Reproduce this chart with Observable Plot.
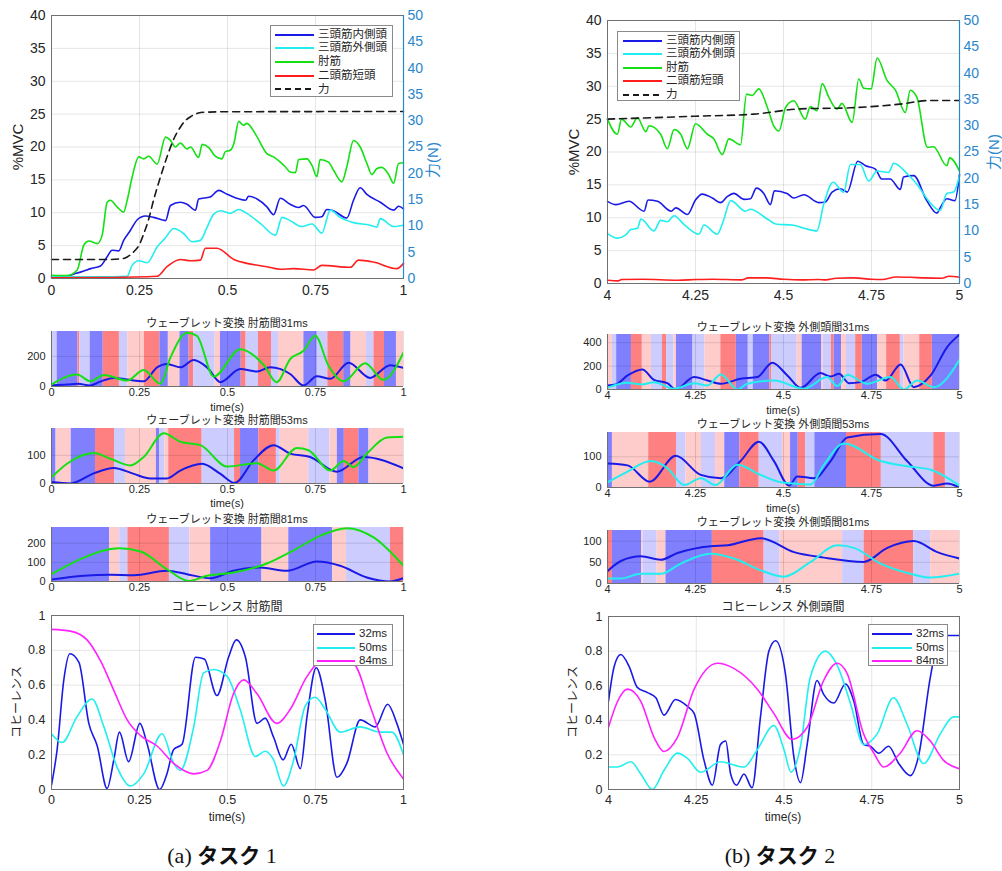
<!DOCTYPE html>
<html><head><meta charset="utf-8">
<script src="https://cdn.jsdelivr.net/npm/d3@7"></script>
<script src="https://cdn.jsdelivr.net/npm/@observablehq/plot@0.6"></script>
<style>
body{margin:0;background:#fff;}
#root{position:relative;width:1002px;height:871px;overflow:hidden;font-family:'Liberation Sans','Noto Sans CJK JP',sans-serif;color:#262626;background:#fff;}
.lbl{position:absolute;white-space:nowrap;line-height:1;}
.legend{position:absolute;background:#fff;border:1px solid #8a8a8a;box-sizing:border-box;}
.legend .row{position:absolute;left:0;white-space:nowrap;line-height:1;}
</style>
</head><body><div id="root"></div>
<script>
// ---------------- DATA ----------------
const xTicksA = [0, 0.25, 0.5, 0.75, 1];
const xTicksB = [4, 4.25, 4.5, 4.75, 5];
const mvcTicks = [0,5,10,15,20,25,30,35,40];
const forceTicks = [0,5,10,15,20,25,30,35,40,45,50];
const cohTicks = [0,0.2,0.4,0.6,0.8,1];
const muscleNames = ["三頭筋内側頭","三頭筋外側頭","肘筋","二頭筋短頭","力"];
const scaleNames = ["32ms","50ms","84ms"];
const wlTitlesA = ["ウェーブレット変換 肘筋間31ms","ウェーブレット変換 肘筋間53ms","ウェーブレット変換 肘筋間81ms"];
const wlTitlesB = ["ウェーブレット変換 外側頭間31ms","ウェーブレット変換 外側頭間53ms","ウェーブレット変換 外側頭間81ms"];
const cohTitles = ["コヒーレンス 肘筋間","コヒーレンス 外側頭間"];
const captions = [["(a)","タスク","1"],["(b)","タスク","2"]];

// Task 1 EMG (%MVC) and force (N)
const a_medial = [[0,0.35],[0.044,0.4],[0.068,0.75],[0.092,1.15],[0.111,1.5],[0.139,1.9],[0.158,3.3],[0.172,4.3],[0.191,4.2],[0.205,5.8],[0.224,7.3],[0.243,8.9],[0.267,9.5],[0.29,9.3],[0.324,8.8],[0.338,11.1],[0.366,11.6],[0.385,11.3],[0.409,10.4],[0.418,12.1],[0.451,12.4],[0.475,13.4],[0.499,12.8],[0.551,11.9],[0.56,12.5],[0.584,12.1],[0.612,10.9],[0.631,9.7],[0.65,12.2],[0.678,11.3],[0.702,10.8],[0.716,11.1],[0.749,9.3],[0.768,9.4],[0.782,10.5],[0.801,10.3],[0.839,9.2],[0.858,11.9],[0.877,13.8],[0.896,12.8],[0.934,11.6],[0.972,10.4],[0.986,11.0],[1,10.6]];
const a_lateral = [[0,0.25],[0.139,0.25],[0.215,0.35],[0.229,2.0],[0.248,2.7],[0.272,2.4],[0.3,4.8],[0.324,6.2],[0.347,7.6],[0.376,6.8],[0.399,5.6],[0.423,5.8],[0.442,7.8],[0.461,9.8],[0.48,10.3],[0.508,9.9],[0.532,10.5],[0.555,9.9],[0.593,8.4],[0.636,6.6],[0.655,9.3],[0.678,8.8],[0.711,7.9],[0.74,8.3],[0.768,6.9],[0.792,10.4],[0.82,9.3],[0.858,8.5],[0.905,8.1],[0.924,7.8],[0.934,9.1],[0.972,7.9],[1,8.1]];
const a_anconeus = [[0,0.5],[0.044,0.45],[0.073,1.3],[0.092,5.1],[0.106,5.7],[0.13,5.3],[0.144,6.6],[0.158,11.6],[0.167,11.9],[0.186,10.9],[0.205,10.1],[0.215,11.9],[0.229,15.4],[0.248,18.5],[0.262,18.2],[0.276,18.6],[0.3,17.4],[0.324,21.5],[0.338,21.0],[0.352,20.0],[0.366,20.6],[0.385,19.7],[0.395,20.0],[0.418,18.4],[0.428,20.4],[0.447,19.9],[0.465,18.6],[0.484,18.2],[0.494,19.3],[0.508,19.5],[0.518,20.5],[0.532,23.9],[0.545,23.3],[0.555,23.6],[0.579,22.0],[0.612,19.0],[0.631,18.5],[0.65,17.7],[0.664,17.0],[0.678,16.2],[0.693,16.1],[0.702,18.1],[0.726,18.2],[0.74,17.2],[0.754,15.5],[0.763,18.1],[0.787,17.7],[0.801,16.5],[0.825,14.7],[0.839,17.0],[0.858,21.0],[0.877,20.0],[0.896,17.5],[0.91,15.8],[0.924,16.7],[0.938,16.9],[0.957,15.9],[0.972,14.5],[0.986,17.5],[1,17.6]];
const a_biceps = [[0,0.1],[0.139,0.15],[0.3,0.35],[0.328,1.8],[0.366,2.9],[0.395,2.7],[0.423,2.8],[0.437,4.6],[0.47,4.6],[0.518,2.9],[0.555,2.3],[0.612,1.8],[0.65,1.4],[0.688,1.5],[0.745,1.3],[0.768,2.0],[0.849,1.7],[0.872,2.8],[0.915,2.5],[0.981,1.5],[1,2.3]];
const a_force = [[0,3.6],[0.15,3.6],[0.2,3.75],[0.215,4.1],[0.234,5.1],[0.25,6.5],[0.262,8.5],[0.276,11.25],[0.29,14.9],[0.31,19.4],[0.328,23.1],[0.35,26.9],[0.366,28.75],[0.38,30.0],[0.395,30.75],[0.415,31.4],[0.432,31.6],[0.5,31.7],[1,31.75]];

// Task 2 EMG (%MVC) and force (N)
const b_medial = [[4,12.5],[4.024,12.0],[4.061,12.5],[4.104,11.0],[4.115,12.7],[4.142,12.5],[4.181,11.0],[4.194,11.5],[4.227,10.5],[4.25,12.7],[4.269,13.6],[4.298,13.0],[4.321,12.3],[4.34,13.2],[4.359,13.7],[4.388,12.8],[4.406,12.9],[4.423,14.5],[4.444,13.7],[4.463,12.0],[4.474,14.1],[4.51,13.7],[4.529,13.0],[4.558,13.5],[4.6,12.3],[4.619,12.4],[4.638,13.9],[4.662,14.4],[4.681,13.9],[4.711,18.6],[4.733,17.9],[4.761,17.4],[4.779,15.9],[4.803,15.9],[4.832,14.3],[4.841,16.2],[4.87,16.4],[4.907,12.6],[4.936,10.7],[4.945,11.5],[4.964,12.9],[4.987,12.6],[5,16.6]];
const b_lateral = [[4,7.6],[4.028,6.9],[4.052,7.4],[4.066,8.2],[4.085,8.4],[4.095,9.8],[4.132,8.0],[4.151,9.6],[4.17,9.4],[4.189,10.3],[4.217,9.0],[4.26,7.5],[4.274,8.9],[4.312,7.5],[4.329,9.5],[4.35,12.6],[4.392,11.0],[4.406,11.3],[4.454,9.8],[4.482,9.0],[4.524,8.9],[4.558,8.4],[4.595,8.0],[4.614,12.0],[4.641,15.4],[4.671,13.9],[4.69,18.1],[4.718,18.1],[4.742,15.6],[4.766,17.1],[4.799,16.9],[4.813,18.3],[4.855,16.5],[4.879,15.1],[4.912,12.6],[4.945,11.1],[4.964,13.7],[4.983,13.9],[5,16.4]];
const b_anconeus = [[4,25.0],[4.028,22.7],[4.04,25.0],[4.066,23.8],[4.085,25.2],[4.109,23.1],[4.118,24.0],[4.151,22.7],[4.17,20.5],[4.189,23.4],[4.208,22.7],[4.227,20.5],[4.25,24.3],[4.284,22.7],[4.302,22.0],[4.326,19.6],[4.345,22.0],[4.378,21.1],[4.395,28.8],[4.411,28.6],[4.43,29.6],[4.454,26.8],[4.473,23.9],[4.487,23.2],[4.506,26.8],[4.529,27.8],[4.562,25.0],[4.576,26.9],[4.595,26.3],[4.61,30.4],[4.629,28.3],[4.652,26.5],[4.666,27.4],[4.695,24.5],[4.714,31.1],[4.728,29.7],[4.749,29.6],[4.766,34.3],[4.794,30.9],[4.818,29.4],[4.846,26.0],[4.86,29.4],[4.879,28.3],[4.909,20.7],[4.926,20.8],[4.964,17.9],[4.972,19.1],[5,17.1]];
const b_biceps = [[4,0.5],[4.03,0.4],[4.04,0.6],[4.1,0.65],[4.2,0.5],[4.25,0.6],[4.3,0.65],[4.38,0.55],[4.4,0.85],[4.45,0.85],[4.5,0.65],[4.55,0.55],[4.6,0.6],[4.62,0.55],[4.65,0.8],[4.7,0.85],[4.75,0.65],[4.78,0.6],[4.82,1.0],[4.86,0.95],[4.9,0.85],[4.95,0.8],[4.97,1.1],[5,0.95]];
const b_force = [[4,31.25],[4.25,31.8],[4.416,32.2],[4.548,33.2],[4.69,33.4],[4.83,34.1],[4.917,34.8],[5,34.8]];

// Wavelet band edges and kinds (B dark blue, L light blue, R dark red, P light red)
const wA1Edges = [0,0.016,0.075,0.08,0.11,0.147,0.193,0.217,0.264,0.308,0.332,0.365,0.391,0.404,0.465,0.48,0.539,0.553,0.588,0.625,0.645,0.717,0.755,0.785,0.83,0.851,0.895,0.916,0.946,0.98,1];
const wA1Kinds = ["L","B","R","L","B","R","L","P","R","B","P","B","R","L","P","B","R","L","R","L","P","B","L","R","B","P","L","R","B","P"];
const wA2Edges = [0,0.013,0.056,0.125,0.179,0.21,0.298,0.307,0.322,0.333,0.428,0.52,0.537,0.589,0.639,0.65,0.731,0.791,0.812,0.832,0.873,0.902,1];
const wA2Kinds = ["B","P","B","R","L","P","B","L","P","R","L","R","B","R","L","P","L","P","B","R","B","P"];
const wA3Edges = [0,0.165,0.194,0.217,0.335,0.393,0.452,0.598,0.674,0.799,0.838,0.963,1];
const wA3Kinds = ["B","P","L","R","L","P","B","P","B","P","L","R"];
const wB1Edges = [4,4.014,4.026,4.068,4.099,4.125,4.156,4.168,4.189,4.196,4.243,4.277,4.322,4.366,4.4,4.414,4.461,4.466,4.539,4.553,4.608,4.613,4.636,4.644,4.665,4.679,4.705,4.724,4.767,4.793,4.832,4.842,4.887,4.923,5];
const wB1Kinds = ["P","L","B","R","P","L","R","L","P","B","L","P","R","B","L","B","R","L","P","B","P","L","R","B","P","L","R","B","P","R","L","P","R","B"];
const wB2Edges = [4,4.014,4.117,4.196,4.223,4.267,4.307,4.333,4.376,4.431,4.497,4.52,4.542,4.563,4.589,4.679,4.778,4.927,4.96,5];
const wB2Kinds = ["B","P","R","L","P","L","P","B","R","L","P","B","R","L","B","R","L","R","L"];
const wB3Edges = [4,4.014,4.097,4.101,4.141,4.166,4.298,4.445,4.49,4.668,4.729,4.87,4.918,5];
const wB3Kinds = ["R","B","P","L","P","B","R","L","P","L","R","L","P"];

// Wavelet amplitude curves
const wA1Blue = [[0,8],[0.044,13],[0.075,18],[0.11,7],[0.139,33],[0.177,57],[0.215,46],[0.262,35],[0.3,127],[0.328,150],[0.366,127],[0.404,176],[0.442,127],[0.48,29],[0.536,116],[0.584,99],[0.621,127],[0.678,83],[0.716,7],[0.754,68],[0.792,51],[0.844,158],[0.905,57],[0.962,141],[1,123]];
const wA1Green = [[0,13],[0.073,79],[0.11,35],[0.149,77],[0.215,40],[0.262,110],[0.309,18],[0.338,193],[0.385,356],[0.413,336],[0.461,66],[0.536,248],[0.603,143],[0.64,29],[0.678,182],[0.716,237],[0.749,336],[0.787,138],[0.83,35],[0.891,154],[0.943,44],[1,226]];
const wA2Blue = [[0,5],[0.054,0],[0.12,36],[0.177,55],[0.234,34],[0.281,18],[0.328,18],[0.366,46],[0.428,70],[0.48,34],[0.52,2],[0.574,82],[0.631,136],[0.678,106],[0.735,94],[0.811,42],[0.886,94],[1,54]];
const wA2Green = [[0,22],[0.044,70],[0.12,108],[0.167,88],[0.224,64],[0.262,94],[0.319,178],[0.366,148],[0.423,136],[0.499,60],[0.584,72],[0.631,46],[0.697,126],[0.73,118],[0.792,46],[0.83,80],[0.858,58],[0.896,106],[0.953,163],[1,166]];
const wA3Blue = [[0,10],[0.092,30],[0.167,35],[0.234,33],[0.328,56],[0.385,38],[0.451,17],[0.517,56],[0.593,73],[0.669,56],[0.754,104],[0.82,82],[0.896,21],[0.962,0],[1,17]];
const wA3Green = [[0,38],[0.092,125],[0.191,174],[0.253,157],[0.328,64],[0.39,3],[0.442,30],[0.517,47],[0.612,94],[0.688,163],[0.763,238],[0.839,278],[0.915,230],[1,82]];
const wB1Blue = [[4,34],[4.024,43],[4.057,120],[4.099,171],[4.132,83],[4.17,54],[4.194,0],[4.246,106],[4.284,77],[4.322,49],[4.378,91],[4.426,106],[4.468,229],[4.511,120],[4.549,14],[4.605,140],[4.634,111],[4.658,134],[4.686,54],[4.719,63],[4.762,126],[4.79,77],[4.833,214],[4.87,20],[4.918,120],[4.965,363],[5,469]];
const wB1Cyan = [[4,14],[4.057,57],[4.099,43],[4.132,63],[4.189,6],[4.246,54],[4.284,34],[4.322,129],[4.369,0],[4.397,49],[4.473,77],[4.558,6],[4.624,106],[4.653,29],[4.681,126],[4.738,49],[4.804,106],[4.842,0],[4.88,77],[4.927,20],[5,254]];
const wB2Blue = [[4,78],[4.057,72],[4.12,19],[4.194,103],[4.265,41],[4.322,30],[4.378,86],[4.43,149],[4.473,86],[4.516,6],[4.539,36],[4.587,30],[4.634,86],[4.681,163],[4.776,174],[4.851,86],[4.927,6],[4.965,13],[5,0]];
const wB2Cyan = [[4,17],[4.057,52],[4.123,86],[4.17,63],[4.218,8],[4.265,30],[4.307,8],[4.369,74],[4.435,41],[4.492,17],[4.53,13],[4.577,10],[4.615,74],[4.672,143],[4.776,86],[4.851,69],[4.918,58],[5,6]];
const wB3Blue = [[4,29],[4.038,53],[4.095,64],[4.151,56],[4.199,72],[4.293,88],[4.341,90],[4.435,107],[4.53,74],[4.615,61],[4.728,51],[4.795,84],[4.87,100],[4.937,74],[5,59]];
const wB3Cyan = [[4,12],[4.038,12],[4.095,23],[4.151,23],[4.208,47],[4.293,70],[4.359,59],[4.435,31],[4.501,16],[4.577,51],[4.653,90],[4.7,84],[4.776,47],[4.861,23],[4.918,14],[5,23]];
const wYMax = {A1:365, A2:195, A3:282, B1:470, B2:179, B3:125};
const wYTicks = {A1:[0,200], A2:[0,100], A3:[0,100,200], B1:[0,200,400], B2:[0,100], B3:[0,50,100]};

// Coherence
const cA32 = [[0,0.025],[0.016,0.23],[0.035,0.63],[0.052,0.78],[0.078,0.73],[0.106,0.38],[0.13,0.25],[0.158,0.006],[0.177,0.17],[0.193,0.33],[0.219,0.16],[0.251,0.38],[0.272,0.26],[0.307,0],[0.328,0.09],[0.347,0.23],[0.371,0.26],[0.409,0.76],[0.434,0.75],[0.47,0.54],[0.503,0.76],[0.525,0.86],[0.551,0.76],[0.584,0.38],[0.607,0.41],[0.631,0.3],[0.658,0.17],[0.681,0.26],[0.707,0.12],[0.726,0.42],[0.752,0.7],[0.778,0.51],[0.811,0.07],[0.839,0.15],[0.877,0.4],[0.92,0.36],[0.955,0.49],[0.981,0.38],[1,0.26]];
const cA50 = [[0,0.32],[0.03,0.27],[0.073,0.42],[0.115,0.52],[0.149,0.36],[0.186,0.13],[0.224,0.02],[0.262,0.09],[0.314,0.32],[0.347,0.15],[0.366,0.11],[0.404,0.36],[0.432,0.67],[0.461,0.69],[0.499,0.65],[0.536,0.46],[0.579,0.19],[0.607,0.22],[0.631,0.17],[0.659,0.02],[0.688,0.17],[0.721,0.48],[0.749,0.53],[0.778,0.46],[0.82,0.33],[0.877,0.36],[0.934,0.33],[0.967,0.33],[1,0.2]];
const cA84 = [[0,0.92],[0.054,0.91],[0.101,0.86],[0.139,0.74],[0.177,0.57],[0.215,0.4],[0.253,0.31],[0.3,0.25],[0.347,0.15],[0.404,0.09],[0.442,0.11],[0.48,0.28],[0.517,0.55],[0.546,0.63],[0.584,0.55],[0.64,0.38],[0.678,0.46],[0.726,0.65],[0.763,0.73],[0.811,0.73],[0.858,0.72],[0.905,0.48],[0.953,0.21],[1,0.06]];
const cB32 = [[4,0.51],[4.016,0.71],[4.035,0.78],[4.059,0.71],[4.082,0.59],[4.111,0.56],[4.135,0.53],[4.158,0.43],[4.191,0.52],[4.225,0.48],[4.244,0.44],[4.272,0.17],[4.296,0.025],[4.319,0.26],[4.334,0.28],[4.348,0.09],[4.365,0.025],[4.386,0.09],[4.409,0.01],[4.433,0.42],[4.457,0.8],[4.476,0.86],[4.504,0.67],[4.528,0.19],[4.547,0.04],[4.566,0.26],[4.594,0.63],[4.613,0.55],[4.642,0.5],[4.675,0.61],[4.699,0.51],[4.727,0.26],[4.746,0.25],[4.77,0.21],[4.798,0.25],[4.827,0.15],[4.86,0.08],[4.883,0.19],[4.917,0.65],[4.945,0.89],[5,0.89]];
const cB50 = [[4,0.13],[4.026,0.13],[4.064,0.16],[4.092,0.09],[4.125,0],[4.158,0.11],[4.196,0.21],[4.225,0.18],[4.262,0.1],[4.319,0.16],[4.386,0.13],[4.424,0.23],[4.471,0.37],[4.5,0.23],[4.52,0.1],[4.547,0.25],[4.575,0.65],[4.618,0.8],[4.651,0.72],[4.689,0.5],[4.727,0.26],[4.765,0.32],[4.812,0.53],[4.85,0.38],[4.898,0.15],[4.945,0.32],[4.983,0.42],[5,0.42]];
const cB84 = [[4,0.36],[4.026,0.51],[4.054,0.58],[4.092,0.51],[4.13,0.3],[4.158,0.22],[4.196,0.3],[4.244,0.58],[4.31,0.73],[4.357,0.7],[4.424,0.58],[4.471,0.44],[4.523,0.29],[4.566,0.36],[4.613,0.63],[4.651,0.73],[4.68,0.67],[4.727,0.32],[4.756,0.21],[4.784,0.13],[4.831,0.21],[4.879,0.34],[4.917,0.28],[4.954,0.17],[5,0.12]];

// ---------------- STYLE ----------------
const FONT = "'Liberation Sans','Noto Sans CJK JP',sans-serif";
const COL = {blue:"#1a1ae6", cyan:"#22eef0", green:"#14e014", red:"#ff1e1e", magenta:"#ff22ff", black:"#1a1a1a", axis:"#2a86cc", text:"#262626", frame:"#707070"};
const BAND = {B:"#8080ff", L:"#ccccff", R:"#ff8080", P:"#ffcccc"};
const mvcPerN = mvcTicks[mvcTicks.length-1] / forceTicks[forceTicks.length-1];
const root = document.getElementById("root");
const fmt = d => String(d);

function place(el, left, top){ el.style.position="absolute"; el.style.left=left+"px"; el.style.top=top+"px"; el.style.maxWidth="none"; root.appendChild(el); }

function panel(f, o){
  const m = Object.assign({l:50, r:12, t:8, b:26}, o.m || {});
  const svg = Plot.plot({
    width: f.x1-f.x0+m.l+m.r, height: f.y1-f.y0+m.t+m.b,
    marginLeft:m.l, marginRight:m.r, marginTop:m.t, marginBottom:m.b,
    x:{domain:o.xd}, y:{domain:o.yd},
    style:{fontFamily:FONT, fontSize:o.fs+"px", color:COL.text, background:"none", overflow:"visible"},
    marks:o.marks
  });
  place(svg, f.x0-m.l, f.y0-m.t);
}

function label(text, x, y, o={}){
  const d = document.createElement("div");
  d.className="lbl"; d.textContent=text;
  d.style.left=x+"px"; d.style.top=y+"px";
  d.style.fontSize=(o.size||12)+"px"; d.style.color=o.color||COL.text;
  if (o.family) d.style.fontFamily=o.family;
  d.style.transform="translate(-50%,-50%)"+(o.rotate?" rotate(-90deg)":"");
  root.appendChild(d);
}

function legend(box, items, o){
  const d = document.createElement("div");
  d.className="legend";
  Object.assign(d.style,{left:box.x+"px",top:box.y+"px",width:box.w+"px",height:box.h+"px"});
  items.forEach((it,i)=>{
    const cy = o.first + i*o.step;
    const ns="http://www.w3.org/2000/svg";
    const s=document.createElementNS(ns,"svg");
    s.setAttribute("width",box.w); s.setAttribute("height",4);
    s.style.position="absolute"; s.style.left="0px"; s.style.top=(cy-2)+"px";
    const ln=document.createElementNS(ns,"line");
    ln.setAttribute("x1",o.lx0); ln.setAttribute("x2",o.lx1); ln.setAttribute("y1",2); ln.setAttribute("y2",2);
    ln.setAttribute("stroke",it.color); ln.setAttribute("stroke-width",2);
    if (it.dash) ln.setAttribute("stroke-dasharray","6,4");
    s.appendChild(ln); d.appendChild(s);
    const t=document.createElement("div");
    t.className="row"; t.textContent=it.name;
    Object.assign(t.style,{left:o.tx+"px",top:(cy-o.size*0.5)+"px",fontSize:o.size+"px",color:COL.text});
    d.appendChild(t);
  });
  root.appendChild(d);
}

function emgPanel(f, xd, xt, ser, force){
  const yd=[mvcTicks[0], mvcTicks[mvcTicks.length-1]];
  const ln=(data,stroke,extra={})=>Plot.line(data,Object.assign({x:d=>d[0],y:d=>d[1],stroke,strokeWidth:1.6,curve:"monotone-x"},extra));
  panel(f,{xd, yd, fs:14, m:{l:50,r:60,t:8,b:26}, marks:[
    Plot.gridX(xt,{stroke:"#000",strokeOpacity:0.1}),
    Plot.gridY(mvcTicks,{stroke:"#000",strokeOpacity:0.1}),
    ln(ser[0],COL.blue), ln(ser[1],COL.cyan), ln(ser[2],COL.green), ln(ser[3],COL.red),
    Plot.line(force,{x:d=>d[0],y:d=>d[1]*mvcPerN,stroke:COL.black,strokeWidth:1.6,strokeDasharray:"7,5",curve:"monotone-x"}),
    Plot.frame({stroke:COL.frame}),
    Plot.ruleX([xd[1]],{stroke:COL.axis,strokeWidth:1.2}),
    Plot.axisX({ticks:xt,tickFormat:fmt,tickSize:0,tickPadding:7,label:null}),
    Plot.axisY({ticks:mvcTicks,tickFormat:fmt,tickSize:0,tickPadding:6,label:null}),
    Plot.axisY({anchor:"right",ticks:forceTicks.map(n=>n*mvcPerN),tickFormat:d=>fmt(Math.round(d/mvcPerN)),tickSize:0,tickPadding:4,color:COL.axis,label:null})
  ]});
}

function bands(edges,kinds){ return kinds.map((k,i)=>({x1:edges[i],x2:edges[i+1],k})); }

function wlPanel(f, xd, xt, edges, kinds, ymax, yt, l1, l2, c2){
  const yd=[0,ymax];
  const ln=(data,stroke)=>Plot.line(data,{x:d=>d[0],y:d=>d[1],stroke,strokeWidth:2,curve:"monotone-x",clip:true});
  panel(f,{xd, yd, fs:11, m:{l:50,r:12,t:4,b:16}, marks:[
    Plot.rect(bands(edges,kinds),{x1:"x1",x2:"x2",y1:()=>yd[0],y2:()=>yd[1],fill:d=>BAND[d.k]}),
    Plot.gridX(xt,{stroke:"#000",strokeOpacity:0.12}),
    Plot.gridY(yt,{stroke:"#000",strokeOpacity:0.12}),
    ln(l1,COL.blue), ln(l2,c2),
    Plot.ruleX([xd[0]],{stroke:COL.frame}),
    Plot.ruleY([yd[0]],{stroke:COL.frame}),
    Plot.axisX({ticks:xt,tickFormat:fmt,tickSize:0,tickPadding:2,label:null}),
    Plot.axisY({ticks:yt,tickFormat:fmt,tickSize:0,tickPadding:6,label:null})
  ]});
}

function cohPanel(f, xd, xt, s32, s50, s84){
  const yd=[cohTicks[0],cohTicks[cohTicks.length-1]];
  const ln=(data,stroke)=>Plot.line(data,{x:d=>d[0],y:d=>d[1],stroke,strokeWidth:1.6,curve:"monotone-x",clip:true});
  panel(f,{xd, yd, fs:12.5, m:{l:50,r:12,t:6,b:24}, marks:[
    Plot.gridX(xt,{stroke:"#000",strokeOpacity:0.1}),
    Plot.gridY(cohTicks,{stroke:"#000",strokeOpacity:0.1}),
    ln(s32,COL.blue), ln(s50,COL.cyan), ln(s84,COL.magenta),
    Plot.frame({stroke:COL.frame}),
    Plot.axisX({ticks:xt,tickFormat:fmt,tickSize:0,tickPadding:6,label:null}),
    Plot.axisY({ticks:cohTicks,tickFormat:fmt,tickSize:0,tickPadding:6,label:null})
  ]});
}

// ---------------- LAYOUT ----------------
const xdA=[xTicksA[0],xTicksA[4]], xdB=[xTicksB[0],xTicksB[4]];
// Column A
emgPanel({x0:51,x1:403,y0:15,y1:278}, xdA, xTicksA, [a_medial,a_lateral,a_anconeus,a_biceps], a_force);
wlPanel({x0:51,x1:403,y0:331,y1:386}, xdA, xTicksA, wA1Edges, wA1Kinds, wYMax.A1, wYTicks.A1, wA1Blue, wA1Green, COL.green);
wlPanel({x0:51,x1:403,y0:428,y1:483}, xdA, xTicksA, wA2Edges, wA2Kinds, wYMax.A2, wYTicks.A2, wA2Blue, wA2Green, COL.green);
wlPanel({x0:51,x1:403,y0:527,y1:581}, xdA, xTicksA, wA3Edges, wA3Kinds, wYMax.A3, wYTicks.A3, wA3Blue, wA3Green, COL.green);
cohPanel({x0:51,x1:403,y0:615,y1:789}, xdA, xTicksA, cA32, cA50, cA84);
// Column B
emgPanel({x0:607,x1:959,y0:20,y1:283}, xdB, xTicksB, [b_medial,b_lateral,b_anconeus,b_biceps], b_force);
wlPanel({x0:607,x1:959,y0:334,y1:389}, xdB, xTicksB, wB1Edges, wB1Kinds, wYMax.B1, wYTicks.B1, wB1Blue, wB1Cyan, COL.cyan);
wlPanel({x0:607,x1:959,y0:432,y1:487}, xdB, xTicksB, wB2Edges, wB2Kinds, wYMax.B2, wYTicks.B2, wB2Blue, wB2Cyan, COL.cyan);
wlPanel({x0:607,x1:959,y0:530,y1:583}, xdB, xTicksB, wB3Edges, wB3Kinds, wYMax.B3, wYTicks.B3, wB3Blue, wB3Cyan, COL.cyan);
cohPanel({x0:608,x1:959,y0:616,y1:789}, xdB, xTicksB, cB32, cB50, cB84);

// Text
label("%MVC", 17, 147, {size:15, rotate:true});
label("力(N)", 432, 160, {size:15, rotate:true, color:COL.axis});
label("%MVC", 573, 152, {size:15, rotate:true});
label("力(N)", 993, 152, {size:15, rotate:true, color:COL.axis});
[323,420,519].forEach((y,i)=>label(wlTitlesA[i], 227, y, {size:11}));
[327,424,522].forEach((y,i)=>label(wlTitlesB[i], 783, y, {size:11}));
[407,503].forEach(y=>label("time(s)", 227, y, {size:11}));
[410,508].forEach(y=>label("time(s)", 783, y, {size:11}));
label(cohTitles[0], 227, 607, {size:12});
label(cohTitles[1], 783, 607, {size:12});
label("コヒーレンス", 17, 702, {size:12, rotate:true});
label("コヒーレンス", 573, 702, {size:12, rotate:true});
label("time(s)", 227, 817, {size:12});
label("time(s)", 783, 817, {size:12});

// Legends
const emgColors=[COL.blue,COL.cyan,COL.green,COL.red,COL.black];
const emgItems=muscleNames.map((n,i)=>({name:n,color:emgColors[i],dash:i===4}));
legend({x:270,y:25,w:123,h:72}, emgItems, {first:8.5,step:13.7,lx0:4,lx1:43,tx:47,size:11.5});
legend({x:617,y:31,w:123,h:70}, emgItems, {first:8.5,step:13.5,lx0:5,lx1:44,tx:48,size:11.5});
const cohColors=[COL.blue,COL.cyan,COL.magenta];
const cohItems=scaleNames.map((n,i)=>({name:n,color:cohColors[i]}));
legend({x:313,y:624,w:80,h:42}, cohItems, {first:9,step:13.5,lx0:3,lx1:41,tx:45,size:11.5});
legend({x:868,y:624,w:80,h:42}, cohItems, {first:9,step:13.5,lx0:3,lx1:43,tx:47,size:11.5});

// Captions
function caption(parts, cx, cy){
  const d=document.createElement("div");
  d.className="lbl";
  d.style.left=cx+"px"; d.style.top=cy+"px"; d.style.transform="translate(-50%,-50%)";
  d.style.color="#111";
  const mk=(t,fam,size,w)=>{const s=document.createElement("span");s.textContent=t;s.style.fontFamily=fam;s.style.fontSize=size+"px";s.style.fontWeight=w;return s;};
  d.appendChild(mk(parts[0]+" ","'Liberation Serif','DejaVu Serif',serif",22,"normal"));
  d.appendChild(mk(parts[1],"'Noto Sans CJK JP',sans-serif",21,"bold"));
  d.appendChild(mk(" "+parts[2],"'Liberation Serif','DejaVu Serif',serif",22,"normal"));
  root.appendChild(d);
}
caption(captions[0], 222, 855);
caption(captions[1], 780, 855);
</script>
</body></html>
